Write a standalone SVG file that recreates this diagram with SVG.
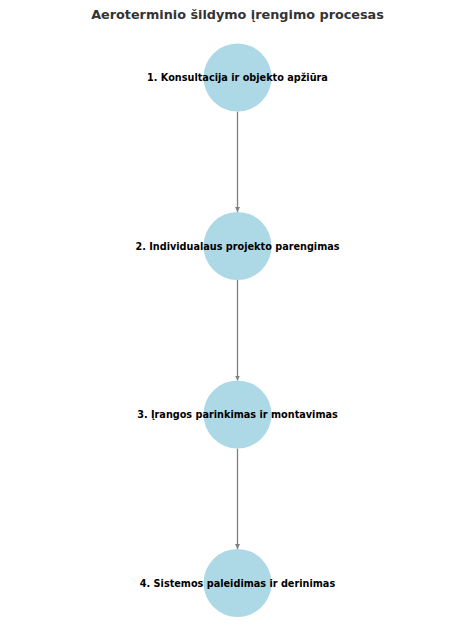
<svg xmlns="http://www.w3.org/2000/svg" width="474" height="644" viewBox="0 0 474 644">
<style>
.node circle{fill:#add8e6}
.lbl{font-family:"DejaVu Sans",sans-serif;font-weight:bold;font-size:9.7px;fill:#000;text-anchor:middle}
.title{font-family:"DejaVu Sans",sans-serif;font-weight:bold;font-size:12.8px;fill:#333;text-anchor:middle}
.edge{stroke:#808080;stroke-width:1.3;fill:none;marker-end:url(#arr)}
</style>
<defs>
<marker id="arr" viewBox="0 0 10 10" refX="10" refY="5" markerWidth="5" markerHeight="5" orient="auto" markerUnits="userSpaceOnUse">
<path d="M0,0 L10,5 L0,10 z" fill="#808080"/>
</marker>
</defs>
<rect width="474" height="644" fill="#fff"/>
<text class="title" x="237.5" y="18.5">Aeroterminio šildymo įrengimo procesas</text>
<g id="connectors">
<line class="edge" x1="237.5" y1="111.5" x2="237.5" y2="212"/>
<line class="edge" x1="237.5" y1="280" x2="237.5" y2="380.5"/>
<line class="edge" x1="237.5" y1="448.5" x2="237.5" y2="549"/>
</g>
<g id="node1" class="node"><circle cx="237.5" cy="77.5" r="34"/><text class="lbl" x="237.5" y="81">1. Konsultacija ir objekto apžiūra</text></g>
<g id="node2" class="node"><circle cx="237.5" cy="246" r="34"/><text class="lbl" x="237.5" y="249.5">2. Individualaus projekto parengimas</text></g>
<g id="node3" class="node"><circle cx="237.5" cy="414.5" r="34"/><text class="lbl" x="237.5" y="418">3. Įrangos parinkimas ir montavimas</text></g>
<g id="node4" class="node"><circle cx="237.5" cy="583" r="34"/><text class="lbl" x="237.5" y="586.5">4. Sistemos paleidimas ir derinimas</text></g>
</svg>
